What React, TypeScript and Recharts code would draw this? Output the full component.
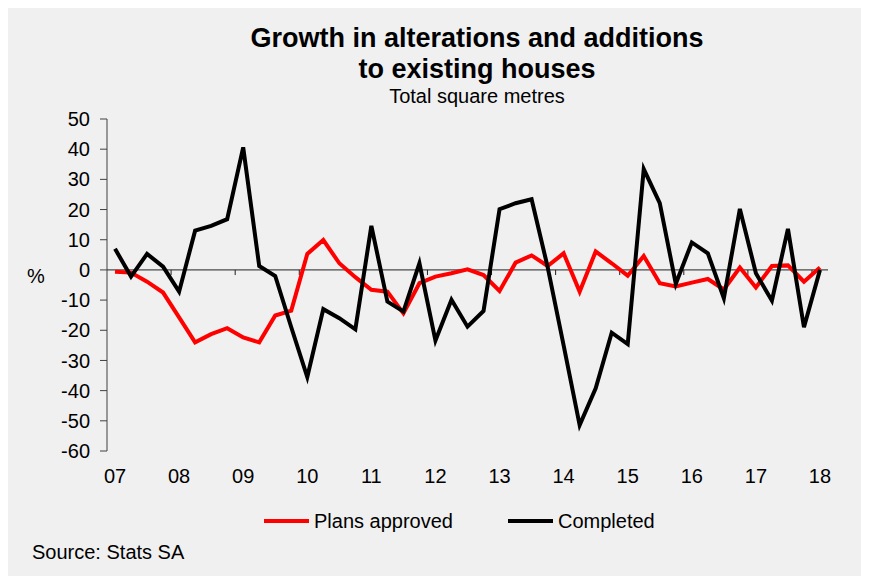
import React from "react";
import { LineChart, Line, XAxis, YAxis, ReferenceLine } from "recharts";

const yearLabels = ["07", "08", "09", "10", "11", "12", "13", "14", "15", "16", "17", "18"];
const yTicks = [-60, -50, -40, -30, -20, -10, 0, 10, 20, 30, 40, 50];

// Quarterly growth, 2007Q1 .. 2018Q1
const plansApproved = [
  -0.6, -0.9, -3.9, -7.5, -15.7, -24.0, -21.3, -19.3, -22.4, -24.0, -15.1,
  -13.5, 5.3, 9.9, 2.2, -2.4, -6.6, -7.2, -14.4, -4.4, -2.2, -1.1,
  0.2, -1.7, -7.0, 2.4, 4.8, 1.3, 5.5, -7.2, 6.1, 2.2, -1.9,
  4.6, -4.4, -5.5, -4.2, -3.0, -6.5, 0.8, -5.8, 1.3, 1.5, -3.9, 0.8,
];
const completed = [
  7.0, -2.2, 5.3, 1.1, -7.2, 13.0, 14.6, 16.8, 40.6, 1.3, -2.0,
  -19.0, -35.5, -13.0, -16.0, -19.7, 14.6, -10.5, -13.8, 2.2, -23.4, -9.9,
  -18.8, -13.6, 20.1, 22.1, 23.4, 1.0, -25.0, -51.4, -39.2, -20.8, -24.6,
  33.4, 22.1, -4.6, 9.1, 5.5, -9.4, 20.2, -1.1, -10.2, 13.6, -19.0, 0.0,
];

const seriesNames = ["Plans approved", "Completed"];
const seriesColors = ["#ff0000", "#000000"];

const data = plansApproved.map((v, i) => ({ i, plans: v, completed: completed[i] }));
const labelPositions = yearLabels.map((_, k) => k * 4);
const boundaryTicks = yearLabels.slice(1).map((_, k) => k * 4 + 3.5);

const FONT = "'Liberation Sans', Arial, sans-serif";

const XTick = (props: any) => {
  const { x, y, payload } = props;
  return (
    <text x={x} y={y} dy={32} textAnchor="middle" fontSize={20} fontFamily={FONT} fill="#000">
      {yearLabels[Math.round(payload.value / 4)]}
    </text>
  );
};

export default function App() {
  return (
    <div style={{ position: "relative", width: 858, height: 568, background: "#f0f0f0", fontFamily: FONT }}>
      <div
        style={{
          position: "absolute",
          top: 15,
          left: 0,
          width: 938,
          textAlign: "center",
          fontWeight: "bold",
          fontSize: 27,
          lineHeight: "31px",
          color: "#000",
        }}
      >
        Growth in alterations and additions
        <br />
        to existing houses
      </div>
      <div
        style={{
          position: "absolute",
          top: 76,
          left: 0,
          width: 938,
          textAlign: "center",
          fontSize: 20,
          lineHeight: "24px",
          color: "#000",
        }}
      >
        Total square metres
      </div>
      <div style={{ position: "absolute", top: 256, left: 19, fontSize: 20, lineHeight: "24px", color: "#000" }}>%</div>
      <div style={{ position: "absolute", top: 532, left: 24, fontSize: 20, lineHeight: "24px", color: "#000" }}>
        Source: Stats SA
      </div>
      <div
        style={{
          position: "absolute",
          top: 501,
          left: 256,
          display: "flex",
          alignItems: "center",
          fontSize: 20,
          lineHeight: "24px",
        }}
      >
        {seriesNames.map((name, idx) => (
          <div key={name} style={{ display: "flex", alignItems: "center", marginRight: idx === 0 ? 55 : 0 }}>
            <div style={{ width: 45, height: 4, background: seriesColors[idx], marginRight: 5 }} />
            <span style={{ color: "#000" }}>{name}</span>
          </div>
        ))}
      </div>
      <LineChart
        width={858}
        height={568}
        data={data}
        margin={{ top: 111, right: 38, bottom: 85, left: 39 }}
        style={{ position: "absolute", top: 0, left: 0 }}
      >
        <XAxis
          dataKey="i"
          type="number"
          domain={[-0.5, 44.5]}
          ticks={labelPositions}
          tick={<XTick />}
          axisLine={false}
          tickLine={false}
          tickSize={0}
          tickMargin={0}
          height={40}
          interval={0}
          allowDataOverflow
        />
        <YAxis
          domain={[-60, 50]}
          ticks={yTicks}
          interval={0}
          width={60}
          tickSize={7}
          tickMargin={10}
          axisLine={{ stroke: "#404040", strokeWidth: 1 }}
          tickLine={{ stroke: "#404040", strokeWidth: 1 }}
          tick={{ fontSize: 20, fontFamily: FONT, fill: "#000" }}
          allowDataOverflow
        />
        <ReferenceLine y={0} stroke="#202020" strokeWidth={1} />
        {boundaryTicks.map((b) => (
          <ReferenceLine
            key={b}
            segment={[
              { x: b, y: 0 },
              { x: b, y: -1.7 },
            ]}
            stroke="#202020"
            strokeWidth={1}
          />
        ))}
        <Line
          type="linear"
          dataKey="plans"
          name={seriesNames[0]}
          stroke={seriesColors[0]}
          strokeWidth={4}
          dot={false}
          isAnimationActive={false}
        />
        <Line
          type="linear"
          dataKey="completed"
          name={seriesNames[1]}
          stroke={seriesColors[1]}
          strokeWidth={4}
          dot={false}
          isAnimationActive={false}
        />
      </LineChart>
    </div>
  );
}
